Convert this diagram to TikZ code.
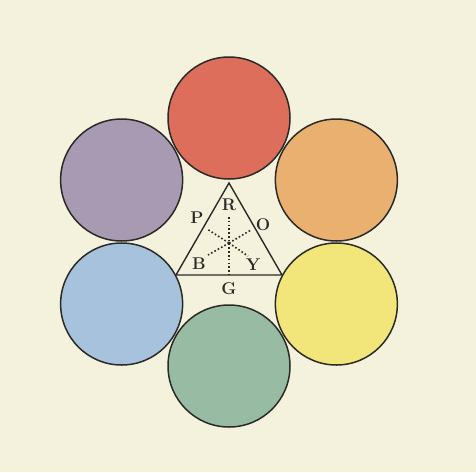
\documentclass[tikz,border=0pt]{standalone}
\usepackage{xcolor}
\definecolor{paper}{HTML}{F4F2DD}
\definecolor{wheelred}{HTML}{DE6E5C}
\definecolor{wheelorange}{HTML}{EAB070}
\definecolor{wheelyellow}{HTML}{F2E57A}
\definecolor{wheelgreen}{HTML}{98BBA4}
\definecolor{wheelblue}{HTML}{A6C2DC}
\definecolor{wheelpurple}{HTML}{A99AB4}
\definecolor{ink}{HTML}{2A2A26}
\usepackage{tikz}
\usetikzlibrary{calc}

\begin{document}
\begin{tikzpicture}[
      x=1pt, y=-1pt,
      disc/.style={circle, draw=ink, line width=1.5pt, minimum size=122pt, inner sep=0pt},
      tri/.style={draw=ink, line width=1.4pt, line join=miter},
      ray/.style={draw=ink, line width=1.6pt, dash pattern=on 1.6pt off 2.2pt},
      lbl/.style={font=\fontsize{17}{17}\selectfont\bfseries, text=ink, inner sep=0pt}
    ]
    \fill[paper] (0,0) rectangle (476,472);
    \useasboundingbox (0,0) rectangle (476,472);
    % six colour discs round the middle
    \coordinate (mid) at (229,242);
    \foreach \n/\a/\c in {red/90/wheelred, orange/30/wheelorange, yellow/-30/wheelyellow,
                          green/-90/wheelgreen, blue/-150/wheelblue, purple/150/wheelpurple} {
      \node[disc, fill=\c] (\n) at ($(mid)+(\a:124pt)$) {};
    }
    % triangle
    \coordinate (tR) at (229,183);
    \coordinate (tB) at (176,275);
    \coordinate (tY) at (282,275);
    \draw[tri] (tR) -- (tB) -- (tY) -- cycle;
    % dotted rays
    \coordinate (c) at (229,243);
    \coordinate (rTop) at (229,217);
    \coordinate (rBot) at (229,275);
    \coordinate (rP) at (207,229);
    \coordinate (rO) at (251,230);
    \coordinate (rB) at (208,255);
    \coordinate (rY) at (248,256);
    \draw[ray] (rTop) -- (rBot);
    \foreach \e in {rP,rO,rB,rY} { \draw[ray] (c) -- (\e); }
    % letters
    \node[lbl] (R) at (229,205) {R};
    \node[lbl] (P) at (197,218) {P};
    \node[lbl] (O) at (263,225) {O};
    \node[lbl] (B) at (199,264) {B};
    \node[lbl] (Y) at (253,265) {Y};
    \node[lbl] (G) at (229,289) {G};
  \end{tikzpicture}
\end{document}
